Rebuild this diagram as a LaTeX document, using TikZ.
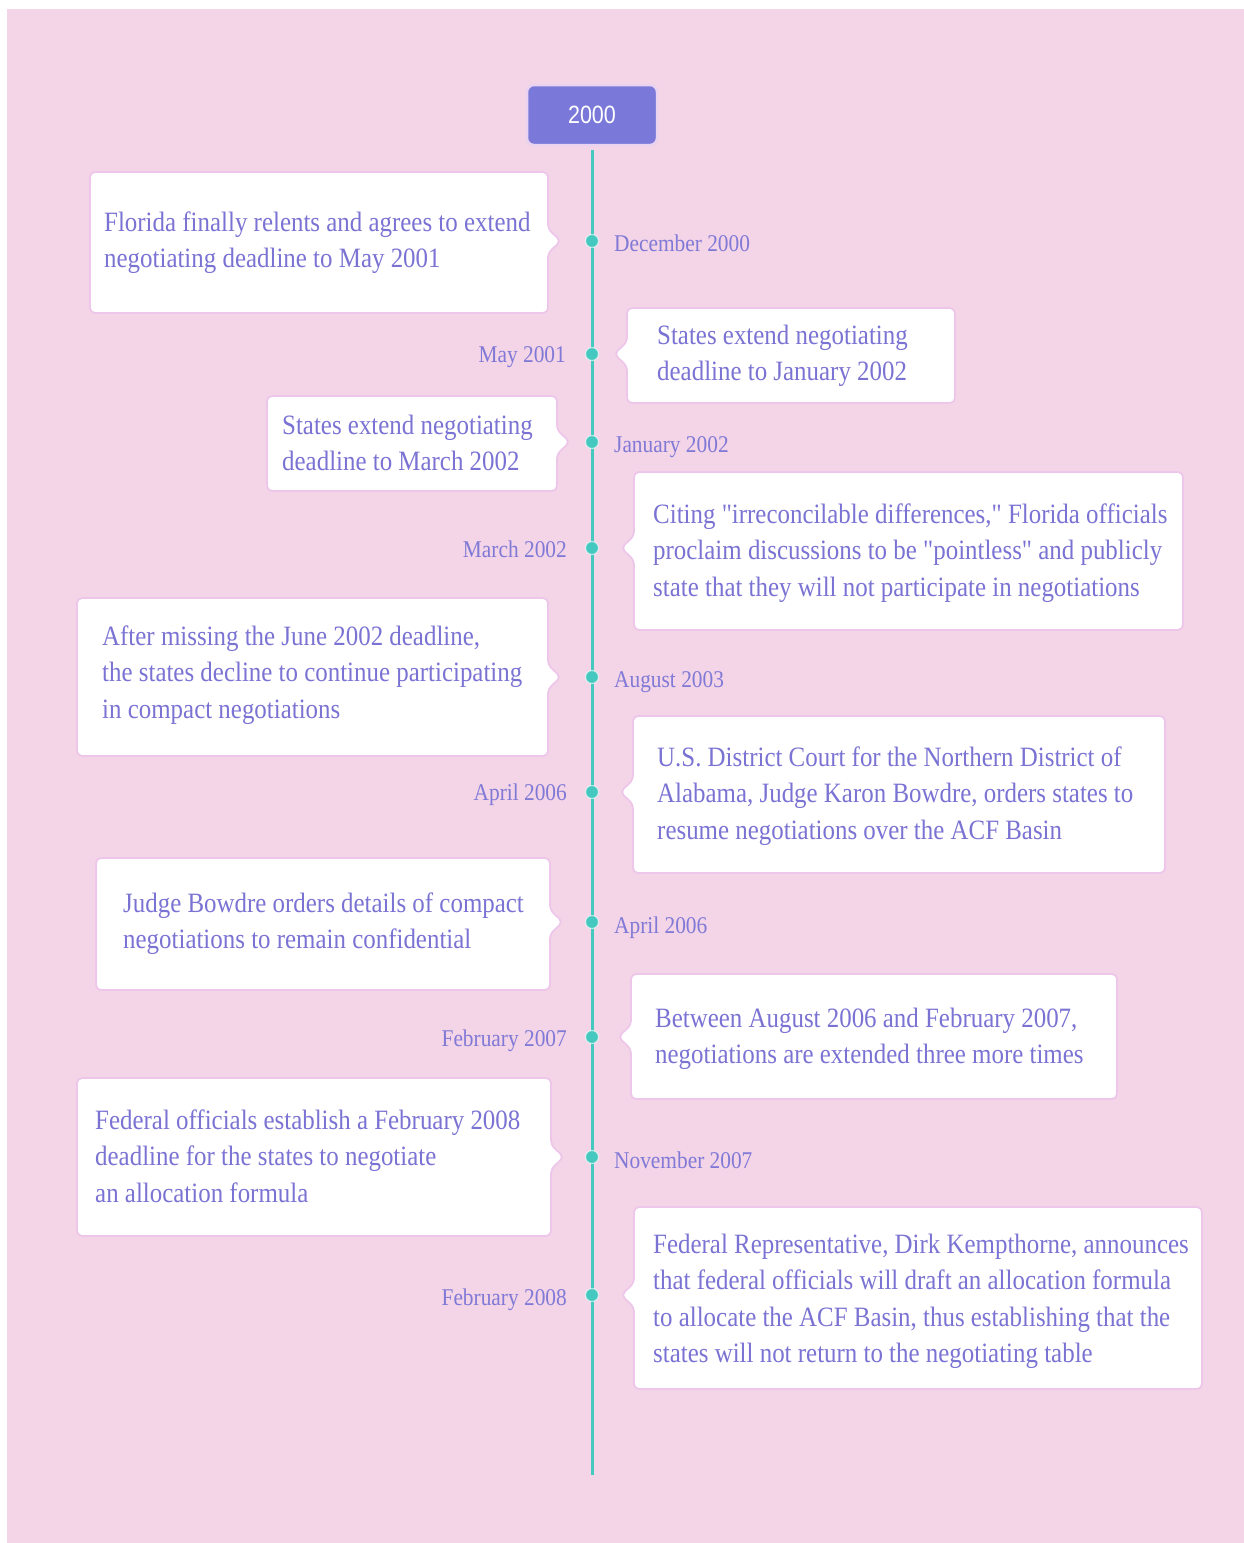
\documentclass[tikz,border=0pt]{standalone}
\usepackage{fontspec}
\setmainfont{Liberation Serif}[FakeStretch=0.89, Ligatures=TeXOff]
\newfontfamily\hdrfont{Liberation Sans}[FakeStretch=0.86]
\definecolor{bgpink}{HTML}{F3D5E7}
\definecolor{txt}{HTML}{7B73D3}
\definecolor{lbl}{HTML}{8079D6}
\definecolor{teal}{HTML}{45C8BF}
\definecolor{cardline}{HTML}{EEC6EA}
\definecolor{hdr}{HTML}{7A78D8}
\definecolor{hdrline}{HTML}{EAD3F1}
\tikzset{
  card/.style={fill=white, draw=cardline, line width=1.8pt, rounded corners=5pt},
  cardtext/.style={anchor=base west, inner sep=0pt, text=txt, font=\fontsize{28}{36.5}\selectfont},
  datelbl/.style={inner sep=0pt, text=lbl, font=\fontsize{24}{28}\selectfont},
  tdot/.style={circle, fill=teal, draw=white, draw opacity=0.6, line width=1.2pt, minimum size=13pt, inner sep=0pt},
  hdrbox/.style={fill=hdr, draw=hdrline, line width=2.5pt, rounded corners=7pt, minimum width=130pt, minimum height=60pt, text=white, font=\hdrfont\fontsize{25}{28}\selectfont},
  tline/.style={draw=teal, line width=3pt}
}
\newcommand\cardL[5]{\filldraw[card] (#1,#2) -- (#3,#2) -- (#3,#5-12) -- (#3+13,#5) -- (#3,#5+12) -- (#3,#4) -- (#1,#4) -- cycle;}
\newcommand\cardR[5]{\filldraw[card] (#1,#2) -- (#3,#2) -- (#3,#4) -- (#1,#4) -- (#1,#5+12) -- (#1-13,#5) -- (#1,#5-12) -- cycle;}
\newcommand\tl[1]{\vtop{\baselineskip=36.5pt\lineskiplimit=-100pt #1}}
\begin{document}
\begin{tikzpicture}[x=1pt,y=-1pt]
\useasboundingbox (0,0) rectangle (1244,1543);
\fill[white] (0,0) rectangle (1244,1543);
\fill[bgpink] (7,9) rectangle (1244,1543);

% header and timeline
\node[hdrbox] (hdr) at (592,115) {2000};
\coordinate (tend) at (592,1475);
\draw[tline] (hdr.south) ++(0,4) -- (tend);

% cards
\cardL{90}{172}{548}{313}{241}
\cardR{627}{308}{955}{403}{354}
\cardL{267}{396}{557}{491}{442}
\cardR{634}{472}{1183}{630}{548}
\cardL{77}{598}{548}{756}{677}
\cardR{633}{716}{1165}{873}{792}
\cardL{96}{858}{550}{990}{922}
\cardR{631}{974}{1117}{1099}{1037}
\cardL{77}{1078}{551}{1236}{1157}
\cardR{634}{1207}{1202}{1389}{1295}

% card texts
\node[cardtext] (t1) at (104,231) {\tl{\hbox{Florida finally relents and agrees to extend}\hbox{negotiating deadline to May 2001}}};
\node[cardtext] (t2) at (657,344) {\tl{\hbox{States extend negotiating}\hbox{deadline to January 2002}}};
\node[cardtext] (t3) at (282,434) {\tl{\hbox{States extend negotiating}\hbox{deadline to March 2002}}};
\node[cardtext] (t4) at (653,523) {\tl{\hbox{Citing "irreconcilable differences," Florida officials}\hbox{proclaim discussions to be "pointless" and publicly}\hbox{state that they will not participate in negotiations}}};
\node[cardtext] (t5) at (102,645) {\tl{\hbox{After missing the June 2002 deadline,}\hbox{the states decline to continue participating}\hbox{in compact negotiations}}};
\node[cardtext] (t6) at (657,766) {\tl{\hbox{U.S. District Court for the Northern District of}\hbox{Alabama, Judge Karon Bowdre, orders states to}\hbox{resume negotiations over the ACF Basin}}};
\node[cardtext] (t7) at (123,912) {\tl{\hbox{Judge Bowdre orders details of compact}\hbox{negotiations to remain confidential}}};
\node[cardtext] (t8) at (655,1027) {\tl{\hbox{Between August 2006 and February 2007,}\hbox{negotiations are extended three more times}}};
\node[cardtext] (t9) at (95,1129) {\tl{\hbox{Federal officials establish a February 2008}\hbox{deadline for the states to negotiate}\hbox{an allocation formula}}};
\node[cardtext] (t10) at (653,1253) {\tl{\hbox{Federal Representative, Dirk Kempthorne, announces}\hbox{that federal officials will draft an allocation formula}\hbox{to allocate the ACF Basin, thus establishing that the}\hbox{states will not return to the negotiating table}}};

% dots
\node[tdot] (d1) at (592,241) {};
\node[tdot] (d2) at (592,354) {};
\node[tdot] (d3) at (592,442) {};
\node[tdot] (d4) at (592,548) {};
\node[tdot] (d5) at (592,677) {};
\node[tdot] (d6) at (592,792) {};
\node[tdot] (d7) at (592,922) {};
\node[tdot] (d8) at (592,1037) {};
\node[tdot] (d9) at (592,1157) {};
\node[tdot] (d10) at (592,1295) {};

% date labels
\node[datelbl, anchor=base west] (l1) at (614,251) {December 2000};
\node[datelbl, anchor=base east] (l2) at (566,362) {May 2001};
\node[datelbl, anchor=base west] (l3) at (614,452) {January 2002};
\node[datelbl, anchor=base east] (l4) at (567,557) {March 2002};
\node[datelbl, anchor=base west] (l5) at (614,687) {August 2003};
\node[datelbl, anchor=base east] (l6) at (567,800) {April 2006};
\node[datelbl, anchor=base west] (l7) at (614,933) {April 2006};
\node[datelbl, anchor=base east] (l8) at (567,1046) {February 2007};
\node[datelbl, anchor=base west] (l9) at (614,1168) {November 2007};
\node[datelbl, anchor=base east] (l10) at (567,1305) {February 2008};
\end{tikzpicture}
\end{document}
